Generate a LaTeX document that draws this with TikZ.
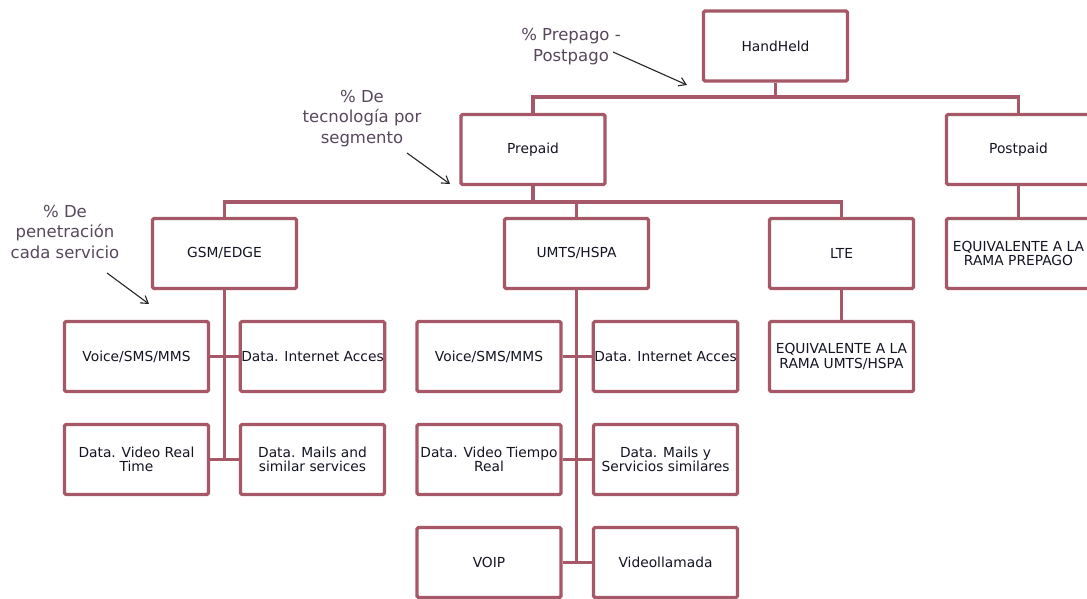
\documentclass[tikz,border=0pt]{standalone}
\usepackage{fontspec}
\setmainfont{DejaVu Sans}
\usetikzlibrary{arrows.meta}
\definecolor{boxc}{RGB}{166,88,104}
\definecolor{annc}{RGB}{88,72,92}
\definecolor{txtc}{RGB}{20,20,35}
\begin{document}
\begin{tikzpicture}[x=1pt,y=-1pt,
  box/.style={draw=boxc, line width=3.2pt, rounded corners=1.5pt, fill=white,
    minimum width=144pt, minimum height=70pt, inner sep=1pt, align=center,
    font=\fontsize{13.8}{14.5}\selectfont, text=txtc},
  conn/.style={draw=boxc, line width=3.2pt},
  ann/.style={align=center, font=\fontsize{16.5}{20.5}\selectfont, text=annc},
  arr/.style={-{Straight Barb[length=7pt,width=9pt]}, line width=1.1pt, draw=black!85}]
\useasboundingbox (0,0) rectangle (1087,599);
\fill[white] (0,0) rectangle (1087,599);

% boxes
\node[box] (hh)   at (775.5,46)    {HandHeld};
\node[box] (pre)  at (533,149.5)   {Prepaid};
\node[box] (post) at (1018.5,149.5){Postpaid};
\node[box] (gsm)  at (224.5,253.5) {GSM/EDGE};
\node[box] (umts) at (576.5,253.5) {UMTS/HSPA};
\node[box] (lte)  at (841.5,253.5) {LTE};
\node[box] (eqp)  at (1018.5,253.5){EQUIVALENTE A LA\\RAMA PREPAGO};
\node[box] (equ)  at (841.5,356.5) {EQUIVALENTE A LA\\RAMA UMTS/HSPA};

\node[box] (g1) at (136.5,356.5) {Voice/SMS/MMS};
\node[box] (g2) at (312.5,356.5) {Data. Internet Acces};
\node[box] (g3) at (136.5,459.5) {Data. Video Real\\Time};
\node[box] (g4) at (312.5,459.5) {Data. Mails and\\similar services};

\node[box] (u1) at (489,356.5)   {Voice/SMS/MMS};
\node[box] (u2) at (665.5,356.5) {Data. Internet Acces};
\node[box] (u3) at (489,459.5)   {Data. Video Tiempo\\Real};
\node[box] (u4) at (665.5,459.5) {Data. Mails y\\Servicios similares};
\node[box] (u5) at (489,562.5)   {VOIP};
\node[box] (u6) at (665.5,562.5) {Videollamada};

% connectors
\coordinate (b1) at (0,97);
\coordinate (b2) at (0,202);
\draw[conn] (hh.south) -- (hh.south |- b1);
\draw[conn] (pre.north) -- (pre.north |- b1) -- (post.north |- b1) -- (post.north);
\draw[conn] (pre.south) -- (pre.south |- b2);
\draw[conn] (gsm.north) -- (gsm.north |- b2) -- (lte.north |- b2) -- (lte.north);
\draw[conn] (umts.north) -- (umts.north |- b2);
\draw[conn] (post.south) -- (eqp.north);
\draw[conn] (lte.south) -- (equ.north);

\draw[conn] (gsm.south) -- (gsm.south |- g3.east);
\draw[conn] (g1.east) -- (g2.west);
\draw[conn] (g3.east) -- (g4.west);

\draw[conn] (umts.south) -- (umts.south |- u5.east);
\draw[conn] (u1.east) -- (u2.west);
\draw[conn] (u3.east) -- (u4.west);
\draw[conn] (u5.east) -- (u6.west);

% annotations
\node[ann] (a1) at (571,46.5)  {\% Prepago -\\Postpago};
\node[ann] (a2) at (362,118.5) {\% De\\tecnología por\\segmento};
\node[ann] (a3) at (65,231.5)  {\% De\\penetración\\cada servicio};

\coordinate (s1) at (613,52);  \coordinate (t1) at (687,85);
\coordinate (s2) at (407,153); \coordinate (t2) at (450,184);
\coordinate (s3) at (107,273); \coordinate (t3) at (149,304);
\draw[arr] (s1) -- (t1);
\draw[arr] (s2) -- (t2);
\draw[arr] (s3) -- (t3);
\end{tikzpicture}
\end{document}
